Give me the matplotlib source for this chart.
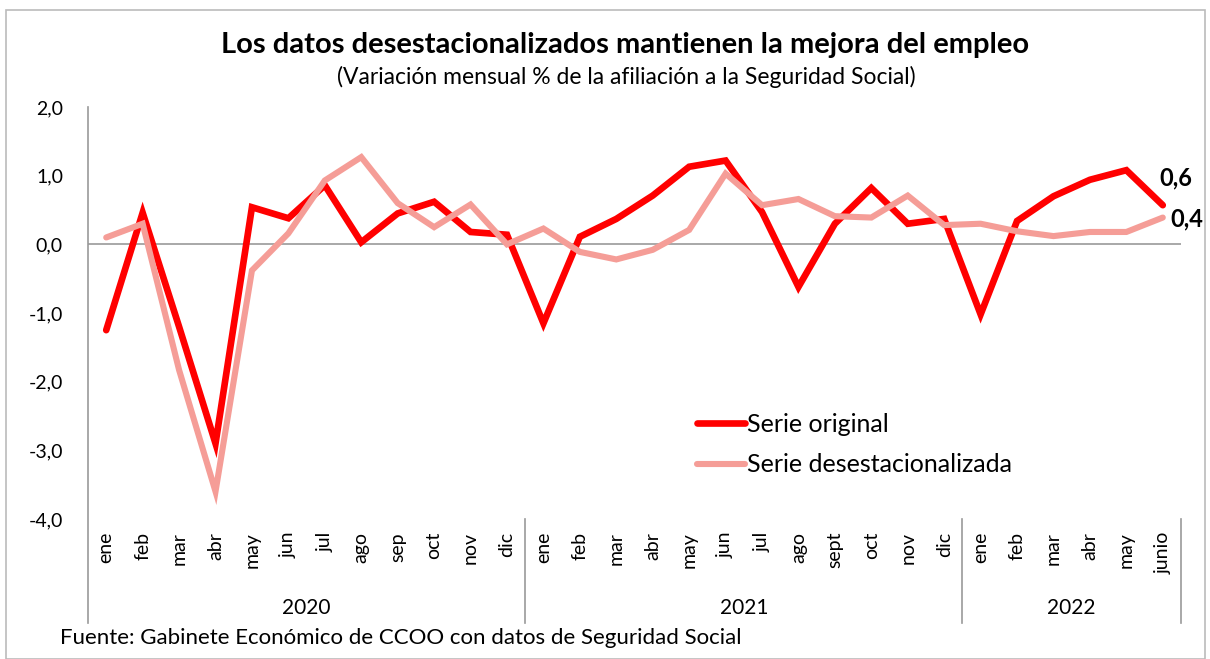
import matplotlib.pyplot as plt
from matplotlib.patches import Rectangle
import matplotlib.transforms as mtransforms

meses = ['ene', 'feb', 'mar', 'abr', 'may', 'jun', 'jul', 'ago', 'sep', 'oct', 'nov', 'dic',
         'ene', 'feb', 'mar', 'abr', 'may', 'jun', 'jul', 'ago', 'sept', 'oct', 'nov', 'dic',
         'ene', 'feb', 'mar', 'abr', 'may', 'junio']
anios = ['2020', '2021', '2022']
meses_por_anio = [12, 12, 6]

serie_original = [-1.25, 0.46, -1.2, -2.9, 0.54, 0.38, 0.86, 0.03, 0.45, 0.62, 0.18, 0.14,
                  -1.15, 0.11, 0.37, 0.71, 1.13, 1.22, 0.47, -0.62, 0.30, 0.82, 0.30, 0.37,
                  -1.02, 0.34, 0.70, 0.94, 1.08, 0.57]
serie_desest = [0.10, 0.30, -1.83, -3.6, -0.38, 0.16, 0.93, 1.27, 0.60, 0.25, 0.58, 0.0,
                0.23, -0.11, -0.22, -0.08, 0.21, 1.03, 0.57, 0.66, 0.41, 0.39, 0.71, 0.28,
                0.30, 0.19, 0.12, 0.18, 0.18, 0.39]

calibri = ['Lato', 'DejaVu Sans']

fig = plt.figure(figsize=(12.1, 6.59), dpi=100)
W, H = 1210, 659
ax = fig.add_axes([88 / W, 1 - 519 / H, (1181 - 88) / W, (519 - 107) / H])

x = list(range(len(meses)))
ax.plot(x, serie_original, color='#FF0000', lw=4.8, solid_joinstyle='miter',
        solid_capstyle='round', label='Serie original', zorder=3)
ax.plot(x, serie_desest, color='#F59D97', lw=4.4, solid_joinstyle='miter',
        solid_capstyle='round', label='Serie desestacionalizada', zorder=4)

ax.set_xlim(-0.5, len(meses) - 0.5)
ax.set_ylim(-4, 2)
ax.set_yticks([2, 1, 0, -1, -2, -3, -4])
ax.set_yticklabels(['2,0', '1,0', '0,0', '-1,0', '-2,0', '-3,0', '-4,0'],
                   family=calibri, fontsize=14)
ax.tick_params(axis='y', length=0, pad=18)
ax.set_xticks([])
for s in ['top', 'right', 'bottom', 'left']:
    ax.spines[s].set_visible(False)
ax.axhline(0, color='#999999', lw=1.2, zorder=1)

# separadores de años y eje izquierdo, bajan hasta la zona de etiquetas
trans = mtransforms.blended_transform_factory(ax.transData, ax.transAxes)
bajo = -(623 - 519) / (519 - 107)
ax.plot([-0.5, -0.5], [1, bajo], color='#999999', lw=1.2, transform=trans, clip_on=False)
pos = -0.5
for n, anio in zip(meses_por_anio, anios):
    ax.plot([pos + n, pos + n], [0, bajo], color='#999999', lw=1.2,
            transform=trans, clip_on=False)
    ax.text(pos + n / 2, -(608 - 519) / 412, anio, transform=trans, ha='center',
            va='center', family=calibri, fontsize=15)
    pos += n

for i, m in enumerate(meses):
    ax.text(i, -(532 - 519) / 412, m, transform=trans, rotation=90, ha='center', va='top',
            family=calibri, fontsize=14)

ax.text(28.9, 0.97, '0,6', ha='left', va='center',
        family=calibri, fontsize=17, fontweight='bold')
ax.text(29.2, 0.37, '0,4', ha='left', va='center',
        family=calibri, fontsize=17, fontweight='bold')

leg = ax.legend(loc='upper left', bbox_to_anchor=((687 - 88) / 1093, (519 - 403) / 412),
                frameon=False, prop={'family': calibri, 'size': 18},
                handlelength=1.9, handletextpad=0.1, labelspacing=0.7, borderaxespad=0)

fig.text(625 / W, 1 - 45 / H, 'Los datos desestacionalizados mantienen la mejora del empleo',
         ha='center', va='center', family=calibri, fontsize=21, fontweight='bold')
fig.text(626 / W, 1 - 77 / H, '(Variación mensual % de la afiliación a la Seguridad Social)',
         ha='center', va='center', family=calibri, fontsize=16.5)
fig.text(60 / W, 1 - 638 / H, 'Fuente: Gabinete Económico de CCOO con datos de Seguridad Social',
         ha='left', va='center', family=calibri, fontsize=16)

fig.patches.append(Rectangle((6 / W, 0), 1 - 11 / W, 1 - 10 / H, transform=fig.transFigure,
                             fill=False, edgecolor='#BBBBBB', lw=1.2))

fig.savefig('out.png', dpi=100)
